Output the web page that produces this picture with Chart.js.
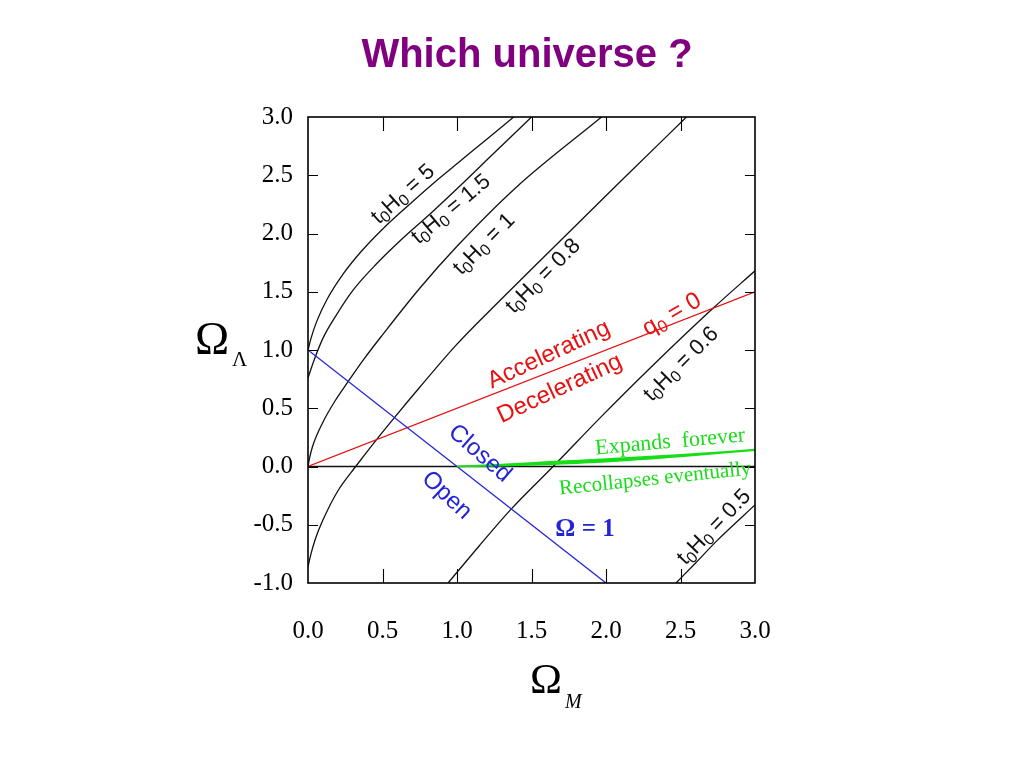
<!DOCTYPE html>
<html><head><meta charset="utf-8">
<script src="https://cdn.jsdelivr.net/npm/chart.js@4.4.1/dist/chart.umd.min.js"></script>
<style>html,body{margin:0;padding:0;background:#fff;}#wrap{width:1024px;height:768px;}</style>
</head><body><div id="wrap"><canvas id="c" width="1024" height="768"></canvas></div>
<script>
// ---- tick labels ----
const xTickLabels = ["0.0","0.5","1.0","1.5","2.0","2.5","3.0"];
const yTickLabels = ["-1.0","-0.5","0.0","0.5","1.0","1.5","2.0","2.5","3.0"];

// ---- series: [Omega_M, Omega_Lambda] ----
const zeroLine   = [[0.0,0.0],[3.0,0.0]];
const omegaOne   = [[0.0,1.0],[2.0,-1.0]];
const q0Line     = [[0.0,0.0],[3.0,1.5]];
const age5   = [[0.0,1.0],[0.02,1.1],[0.06,1.25],[0.13,1.44],[0.24,1.66],[0.36,1.85],[0.51,2.05],[0.69,2.26],[0.85,2.44],[1.03,2.63],[1.2,2.81],[1.38,3.0]];
const age1_5 = [[0.0,0.76],[0.04,0.91],[0.1,1.1],[0.19,1.3],[0.3,1.51],[0.46,1.74],[0.62,1.94],[0.83,2.18],[1.03,2.42],[1.24,2.68],[1.5,3.0]];
const age1   = [[0.0,0.0],[0.01,0.07],[0.03,0.17],[0.1,0.38],[0.18,0.56],[0.27,0.73],[0.38,0.93],[0.5,1.13],[0.75,1.53],[1.0,1.89],[1.4,2.4],[1.97,3.0]];
const age0_8 = [[0.0,-0.86],[0.02,-0.75],[0.05,-0.62],[0.1,-0.46],[0.2,-0.21],[0.32,0.0],[0.456,0.225],[0.58,0.42],[0.75,0.68],[1.0,1.05],[1.3,1.44],[1.6,1.82],[2.1,2.45],[2.54,3.0]];
const age0_6 = [[0.94,-1.0],[1.15,-0.68],[1.36,-0.37],[1.645,0.0],[1.97,0.43],[2.3,0.85],[2.72,1.36],[3.0,1.68]];
const age0_5 = [[2.47,-1.0],[2.6,-0.83],[2.75,-0.63],[3.0,-0.33]];
const expandUpper = [[1.0,0.0],[1.3,0.018],[1.65,0.042],[2.0,0.064],[2.5,0.1],[3.0,0.145]];
const expandLower = [[1.0,0.0],[1.3,0.006],[1.65,0.02],[2.0,0.04],[2.5,0.085],[3.0,0.14]];

const pts = a => a.map(p => ({x:p[0], y:p[1]}));

const BLACK = '#111', BLUE = '#2323d8', RED = '#e81010', GREEN = '#18dd18';
const SANS = "'Liberation Sans', Arial, sans-serif";
const SERIF = "'Liberation Serif', 'Times New Roman', serif";

function line(data, color, width, smooth, extra) {
  return Object.assign({data: pts(data), showLine: true, borderColor: color, borderWidth: width,
    pointRadius: 0, fill: false, cubicInterpolationMode: smooth ? 'monotone' : 'default', tension: 0}, extra || {});
}

// annotation text (layout only)
const T = (v) => [{t:'t'},{t:'0',sub:true},{t:'H'},{t:'0',sub:true},{t:' = ' + v}];
const notes = [
  {p:T('5'),   x:402, y:193, a:-42, s:22, f:SANS, c:BLACK},
  {p:T('1.5'), x:450, y:208, a:-40, s:22, f:SANS, c:BLACK},
  {p:T('1'),   x:483, y:243, a:-45, s:22, f:SANS, c:BLACK},
  {p:T('0.8'), x:542, y:275, a:-45, s:22, f:SANS, c:BLACK},
  {p:T('0.6'), x:680, y:363, a:-45, s:22, f:SANS, c:BLACK},
  {p:T('0.5'), x:713, y:526, a:-46, s:22, f:SANS, c:BLACK},
  {p:[{t:'q'},{t:'0',sub:true},{t:' = 0'}], x:671, y:313, a:-30, s:24, f:SANS, c:RED},
  {p:[{t:'Accelerating'}], x:548, y:353, a:-25, s:24, f:SANS, c:RED},
  {p:[{t:'Decelerating'}], x:559, y:387, a:-25, s:24, f:SANS, c:RED},
  {p:[{t:'Closed'}], x:481, y:452, a:41, s:24, f:SANS, c:BLUE},
  {p:[{t:'Open'}],   x:448, y:494, a:43, s:24, f:SANS, c:BLUE},
  {p:[{t:'\u03A9 = 1'}], x:585, y:527, a:0, s:25, f:SERIF, c:BLUE, w:'bold'},
  {p:[{t:'Expands  forever'}], x:670, y:440, a:-5, s:22, f:SERIF, c:GREEN},
  {p:[{t:'Recollapses eventually'}], x:655, y:477, a:-6, s:21, f:SERIF, c:GREEN}
];

function drawRich(ctx, n) {
  ctx.save();
  ctx.translate(n.x, n.y);
  ctx.rotate(n.a * Math.PI / 180);
  ctx.fillStyle = n.c;
  ctx.textBaseline = 'alphabetic';
  ctx.textAlign = 'left';
  const w = n.w || 'normal';
  const fonts = n.p.map(q => `${w} ${q.sub ? Math.round(n.s*0.72) : n.s}px ${n.f}`);
  let total = 0;
  const widths = n.p.map((q,i) => { ctx.font = fonts[i]; const m = ctx.measureText(q.t).width; total += m; return m; });
  let x = -total / 2;
  const base = n.s * 0.36;
  n.p.forEach((q,i) => { ctx.font = fonts[i]; ctx.fillText(q.t, x, base + (q.sub ? n.s*0.18 : 0)); x += widths[i]; });
  ctx.restore();
}

const framePlugin = {
  id: 'frameAndText',
  afterDatasetsDraw(chart) {
    const {ctx, chartArea: a, scales: {x, y}} = chart;
    ctx.save();
    ctx.strokeStyle = '#000';
    ctx.lineWidth = 1.6;
    ctx.strokeRect(a.left, a.top, a.right - a.left, a.bottom - a.top);
    ctx.lineWidth = 1.1;
    ctx.beginPath();
    x.ticks.forEach(t => {
      if (t.value <= x.min || t.value >= x.max) return;
      const px = Math.round(x.getPixelForValue(t.value)) + 0.5;
      ctx.moveTo(px, a.bottom); ctx.lineTo(px, a.bottom - 14);
      ctx.moveTo(px, a.top); ctx.lineTo(px, a.top + 14);
    });
    y.ticks.forEach(t => {
      if (t.value <= y.min || t.value >= y.max) return;
      const py = Math.round(y.getPixelForValue(t.value)) + 0.5;
      ctx.moveTo(a.left, py); ctx.lineTo(a.left + 10, py);
      ctx.moveTo(a.right, py); ctx.lineTo(a.right - 10, py);
    });
    ctx.stroke();
    ctx.restore();
    notes.forEach(n => drawRich(ctx, n));
  },
  afterDraw(chart) {
    const ctx = chart.ctx;
    ctx.save();
    // title
    ctx.fillStyle = '#800080';
    ctx.font = "bold 40px 'Liberation Sans', Arial, sans-serif";
    ctx.textAlign = 'center';
    ctx.textBaseline = 'alphabetic';
    ctx.fillText('Which universe ?', 527, 67);
    // axis titles
    ctx.fillStyle = '#000';
    ctx.textAlign = 'left';
    ctx.font = "46px " + SERIF;
    ctx.fillText('\u03A9', 195, 354);
    ctx.font = "21px " + SERIF;
    ctx.fillText('\u039B', 232, 366);
    ctx.font = "43px " + SERIF;
    ctx.fillText('\u03A9', 530, 693);
    ctx.font = "italic 20px " + SERIF;
    ctx.fillText('M', 565, 708);
    ctx.restore();
  }
};

new Chart(document.getElementById('c'), {
  type: 'scatter',
  data: {
    datasets: [
      line(expandUpper, GREEN, 1.5, true, {fill: '+1', backgroundColor: GREEN}),
      line(expandLower, GREEN, 1.5, true),
      line(omegaOne, BLUE, 1.3, false),
      line(q0Line, RED, 1.2, false),
      line(zeroLine, BLACK, 1.4, false),
      line(age5, BLACK, 1.3, true),
      line(age1_5, BLACK, 1.3, true),
      line(age1, BLACK, 1.3, true),
      line(age0_8, BLACK, 1.3, true),
      line(age0_6, BLACK, 1.3, true),
      line(age0_5, BLACK, 1.3, true)
    ]
  },
  options: {
    responsive: false,
    devicePixelRatio: 1,
    animation: false,
    layout: {padding: {left: 0, right: 269, top: 117, bottom: 0}},
    plugins: {legend: {display: false}, tooltip: {enabled: false}, title: {display: false}},
    scales: {
      x: {
        type: 'linear', min: 0, max: 3,
        grid: {display: false, drawTicks: false},
        border: {display: false},
        ticks: {stepSize: 0.5, padding: 33, color: '#000',
          font: {family: SERIF, size: 25},
          callback: (v) => xTickLabels[Math.round(v / 0.5)]},
        afterFit: (s) => { s.height = 185; }
      },
      y: {
        type: 'linear', min: -1, max: 3,
        grid: {display: false, drawTicks: false},
        border: {display: false},
        ticks: {stepSize: 0.5, padding: 15, color: '#000',
          font: {family: SERIF, size: 25},
          callback: (v) => yTickLabels[Math.round((v + 1) / 0.5)]},
        afterFit: (s) => { s.width = 308; }
      }
    }
  },
  plugins: [framePlugin]
});
</script>
</body></html>
